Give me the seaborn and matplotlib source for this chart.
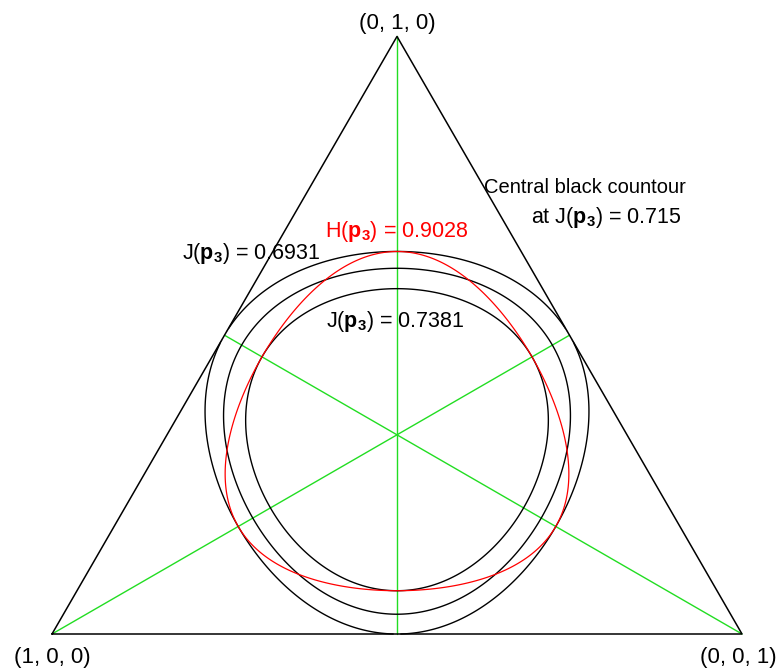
import numpy as np
import matplotlib
matplotlib.use("Agg")
import matplotlib.pyplot as plt
import seaborn as sns
import pandas as pd

# ---- data ----
vertex_labels = ["(1, 0, 0)", "(0, 1, 0)", "(0, 0, 1)"]
j_levels = [0.6931, 0.715, 0.7381]
h_levels = [0.9028]
annot_j_outer = 0.6931
annot_j_inner = 0.7381
annot_j_central = 0.715
annot_h = 0.9028

sns.set_theme(style="white")
plt.rcParams['font.family'] = ['Liberation Sans', 'DejaVu Sans']
plt.rcParams['text.color'] = 'black'
plt.rcParams['mathtext.fontset'] = 'custom'
plt.rcParams['mathtext.rm'] = 'Liberation Sans'
plt.rcParams['mathtext.bf'] = 'Liberation Sans:bold'
plt.rcParams['mathtext.it'] = 'Liberation Sans:italic'

fig = plt.figure(figsize=(7.82, 6.70), dpi=100)
ax = fig.add_axes([0, 0, 1, 1])
S = 690.0
BASE = 634.0
ax.set_xlim(-52 / S, 1 + 40 / S)
ax.set_ylim(-36 / S, BASE / S)
ax.set_axis_off()

h3 = np.sqrt(3) / 2


def to_xy(p1, p2, p3):
    return p3 + p2 / 2.0, p2 * h3


def px(x, y):
    return (x - 52) / S, (BASE - y) / S


verts = [to_xy(1, 0, 0), to_xy(0, 1, 0), to_xy(0, 0, 1)]

# triangle edges
tri = pd.DataFrame({
    "x": [verts[0][0], verts[1][0], verts[2][0], verts[0][0]],
    "y": [verts[0][1], verts[1][1], verts[2][1], verts[0][1]],
})
ax.plot(tri["x"], tri["y"], color="black", lw=1.1, zorder=3)

# medians (green)
for i in range(3):
    j, k = [m for m in range(3) if m != i]
    mx = (verts[j][0] + verts[k][0]) / 2
    my = (verts[j][1] + verts[k][1]) / 2
    df = pd.DataFrame({"x": [verts[i][0], mx], "y": [verts[i][1], my]})
    sns.lineplot(data=df, x="x", y="y", ax=ax, color="#22dd22", lw=1.0,
                 sort=False, estimator=None, zorder=1)

# contours
n = 900
xs = np.linspace(0, 1, n)
ys = np.linspace(0, h3, n)
X, Y = np.meshgrid(xs, ys)
P2 = Y / h3
P3 = X - P2 / 2
P1 = 1 - P2 - P3
valid = (P1 >= -1e-9) & (P2 >= -1e-9) & (P3 >= -1e-9)


def xlogx(v):
    v = np.clip(v, 1e-15, None)
    return v * np.log(v)


H = -(xlogx(P1) + xlogx(P2) + xlogx(P3))
J = -(xlogx(1 - P1) + xlogx(1 - P2) + xlogx(1 - P3))
H = np.where(valid, H, np.nan)
J = np.where(valid, J, np.nan)

ax.contour(X, Y, J, levels=j_levels, colors="black", linewidths=1.0, zorder=2)
ax.contour(X, Y, H, levels=h_levels, colors="red", linewidths=0.9, zorder=2)

fv = 16
fs = 15.5
ax.text(*px(397, 29), vertex_labels[1], ha="center", va="baseline", fontsize=fv)
ax.text(*px(52, 663), vertex_labels[0], ha="center", va="baseline", fontsize=fv)
ax.text(*px(738, 663), vertex_labels[2], ha="center", va="baseline", fontsize=fv)

lab = r"J($\mathbf{p}_\mathbf{3}$) = "
ax.text(*px(251, 259), lab + f"{annot_j_outer:.4f}",
        ha="center", va="baseline", fontsize=fs)
ax.text(*px(395, 327), lab + f"{annot_j_inner:.4f}",
        ha="center", va="baseline", fontsize=fs)
ax.text(*px(397, 237),
        r"H($\mathbf{p}_\mathbf{3}$) = " + f"{annot_h:.4f}",
        ha="center", va="baseline", fontsize=fs, color="red")
ax.text(*px(585, 193), "Central black countour",
        ha="center", va="baseline", fontsize=14.5)
ax.text(*px(606, 223), "at " + lab + f"{annot_j_central:.3f}",
        ha="center", va="baseline", fontsize=fs)

fig.savefig("out.png", dpi=100)
